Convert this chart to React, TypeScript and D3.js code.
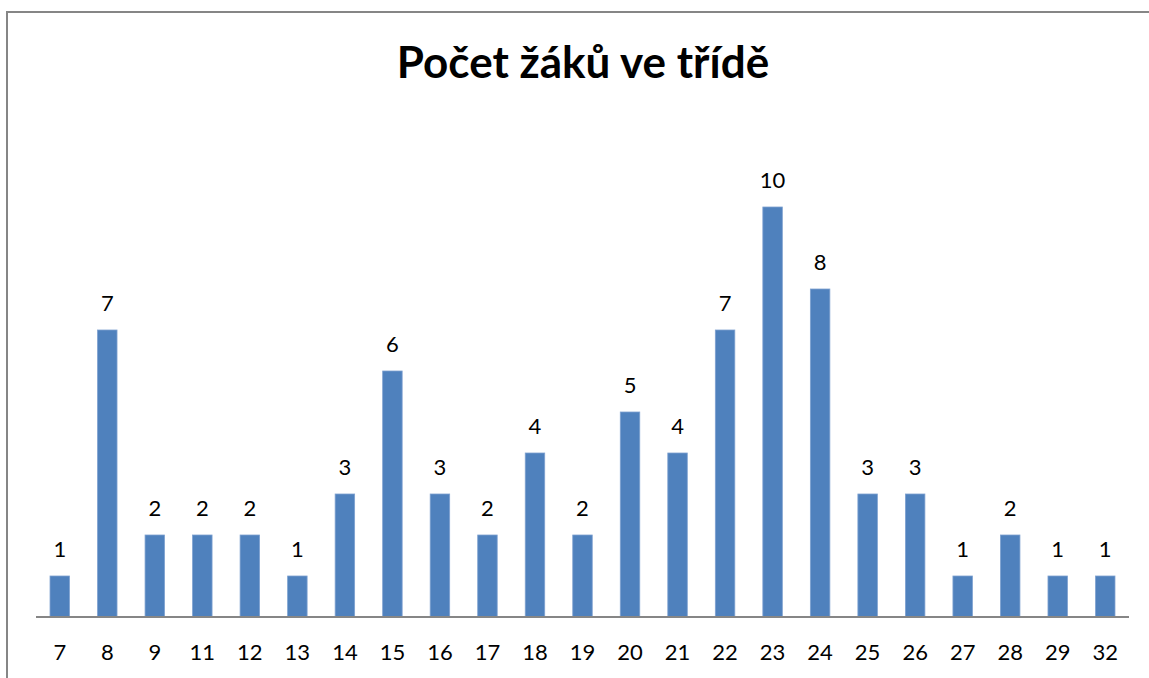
import React, { useRef, useEffect } from "react";
import * as d3 from "d3";

const categories = ["7", "8", "9", "11", "12", "13", "14", "15", "16", "17", "18", "19", "20", "21", "22", "23", "24", "25", "26", "27", "28", "29", "32"];
const counts = [1, 7, 2, 2, 2, 1, 3, 6, 3, 2, 4, 2, 5, 4, 7, 10, 8, 3, 3, 1, 2, 1, 1];
const title = "Počet žáků ve třídě";

const App = () => {
  const svgRef = useRef<SVGSVGElement>(null);

  useEffect(() => {
    const width = 1149, height = 678;
    const plot = { left: 36, right: 1129, bottom: 617, top: 125 };
    const font = "Lato, 'Open Sans', sans-serif";

    const svg = d3.select(svgRef.current)
      .attr("width", width)
      .attr("height", height)
      .style("background", "#fff")
      .style("display", "block");

    svg.selectAll("*").remove();

    // chart frame, only left and top edges are visible
    svg.append("path")
      .attr("d", `M7,${height}V12H${width}`)
      .attr("fill", "none")
      .attr("stroke", "#868686")
      .attr("stroke-width", 2);

    svg.append("text")
      .attr("x", 583)
      .attr("y", 78)
      .attr("text-anchor", "middle")
      .style("font-family", font)
      .style("font-weight", "bold")
      .style("font-size", "44px")
      .text(title);

    const x = d3.scaleBand()
      .domain(categories)
      .range([plot.left, plot.right])
      .paddingInner(0.59)
      .paddingOuter(0.295);

    const y = d3.scaleLinear()
      .domain([0, 12])
      .range([plot.bottom, plot.top]);

    svg.selectAll("rect.bar")
      .data(counts)
      .enter()
      .append("rect")
      .attr("class", "bar")
      .attr("x", (d, i) => x(categories[i])!)
      .attr("y", d => y(d))
      .attr("width", x.bandwidth())
      .attr("height", d => y(0) - y(d))
      .attr("fill", "#4F81BD")
      .attr("stroke", "#7EA1D0")
      .attr("stroke-width", 0.8);

    // value labels
    svg.selectAll("text.val")
      .data(counts)
      .enter()
      .append("text")
      .attr("class", "val")
      .attr("x", (d, i) => x(categories[i])! + x.bandwidth() / 2)
      .attr("y", d => y(d) - 19)
      .attr("text-anchor", "middle")
      .style("font-family", font)
      .style("font-size", "22px")
      .text(d => d);

    // x axis
    svg.append("line")
      .attr("x1", plot.left)
      .attr("x2", plot.right)
      .attr("y1", plot.bottom)
      .attr("y2", plot.bottom)
      .attr("stroke", "#868686")
      .attr("stroke-width", 2);

    svg.selectAll("text.tick")
      .data(categories)
      .enter()
      .append("text")
      .attr("class", "tick")
      .attr("x", d => x(d)! + x.bandwidth() / 2)
      .attr("y", 660)
      .attr("text-anchor", "middle")
      .style("font-family", font)
      .style("font-size", "22px")
      .text(d => d);
  }, []);

  return (
    <div style={{ position: "fixed", left: 0, top: 0 }}>
      <svg ref={svgRef}></svg>
    </div>
  );
};

export default App;
